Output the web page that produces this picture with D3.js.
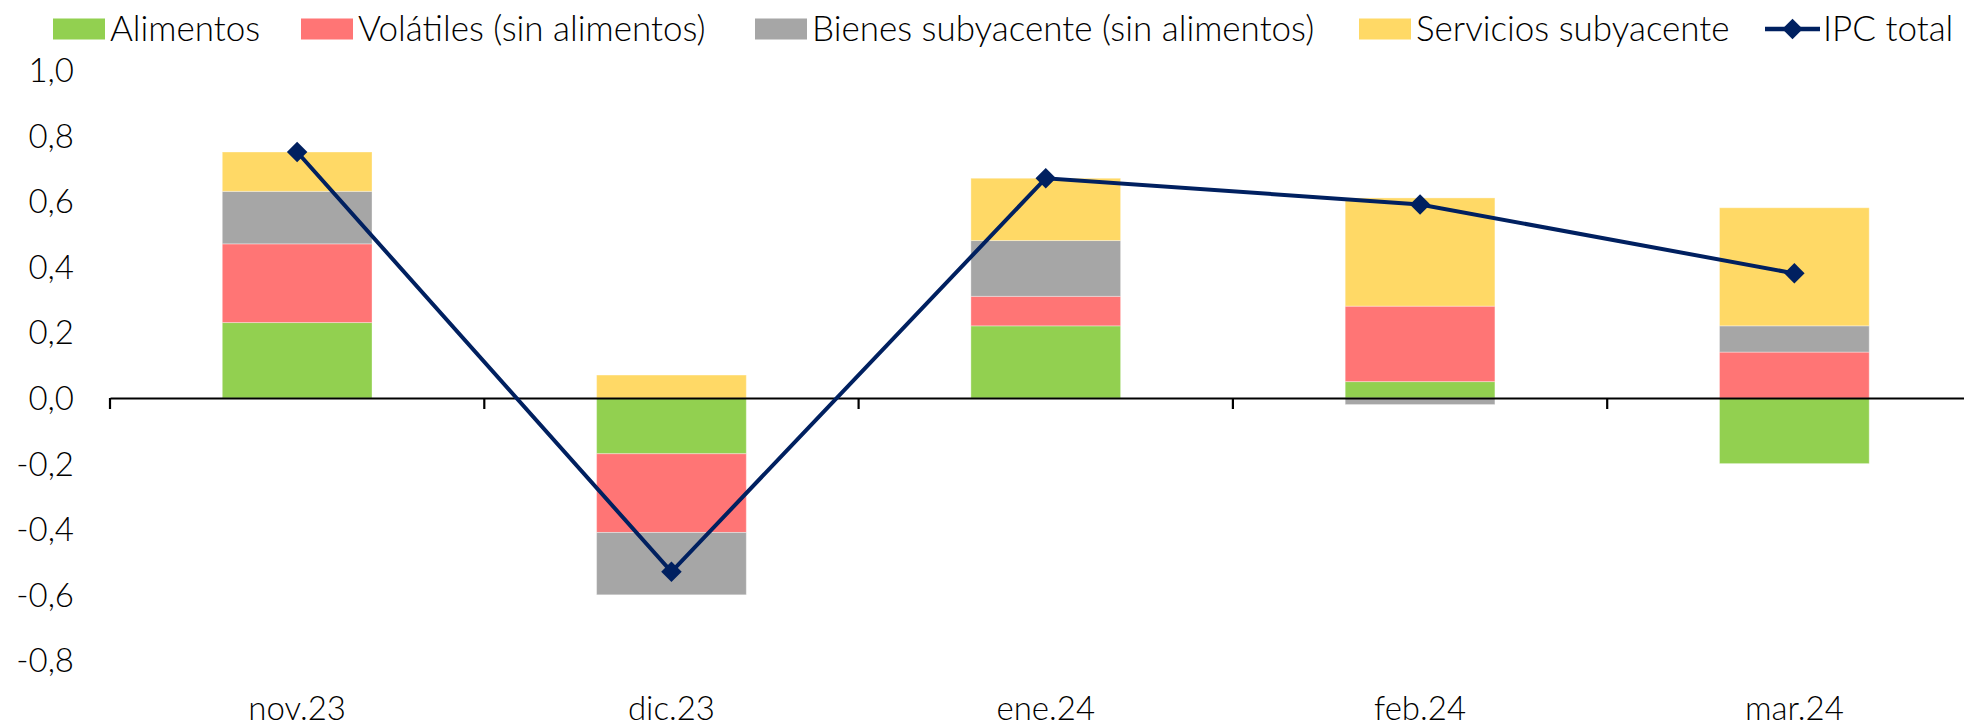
<!DOCTYPE html>
<html>
<head>
<meta charset="utf-8">
<script src="https://cdn.jsdelivr.net/npm/d3@7"></script>
<style>
  html, body { margin: 0; padding: 0; background: #fff; }
  svg { display: block; overflow: hidden; }
  text { font-family: Lato, "Open Sans", sans-serif; font-weight: 300; fill: #000; }
</style>
</head>
<body>
<svg id="chart" width="1964" height="726"></svg>
<script>
// ---- data ----
const categories = ["nov.23", "dic.23", "ene.24", "feb.24", "mar.24"];
const seriesNames = ["Alimentos", "Volátiles (sin alimentos)", "Bienes subyacente (sin alimentos)", "Servicios subyacente"];
const alimentos = [0.23, -0.17, 0.22, 0.05, -0.20];
const volatiles = [0.24, -0.24, 0.09, 0.23, 0.14];
const bienes    = [0.16, -0.19, 0.17, -0.02, 0.08];
const servicios = [0.12, 0.07, 0.19, 0.33, 0.36];
const ipcTotal  = [0.75, -0.53, 0.67, 0.59, 0.38];
const lineName = "IPC total";
const yTicks = [-0.8, -0.6, -0.4, -0.2, 0.0, 0.2, 0.4, 0.6, 0.8, 1.0];

const colors = ["#92D050", "#FF7575", "#A6A6A6", "#FFD966"];
const lineColor = "#002060";

// ---- layout ----
const svg = d3.select("#chart");
const x0 = 110, step = 374.3;
const x = d3.scaleBand().domain(categories).range([x0, x0 + step * categories.length]).padding(0);
const y = d3.scaleLinear().domain([-0.8, 1.0]).range([660.4, 70]);
const barFrac = 0.4;
const fontSize = 33;
const legendFont = 35;

const valuesBySeries = [alimentos, volatiles, bienes, servicios];
const rows = categories.map((c, i) => {
  const r = { cat: c };
  seriesNames.forEach((s, k) => r[s] = valuesBySeries[k][i]);
  return r;
});
const stacked = d3.stack().keys(seriesNames).offset(d3.stackOffsetDiverging)(rows);

// bars
const gBars = svg.append("g");
stacked.forEach((layer, k) => {
  gBars.selectAll(null).data(layer).enter().append("rect")
    .attr("x", d => x(d.data.cat) + x.bandwidth() * (1 - barFrac) / 2)
    .attr("width", x.bandwidth() * barFrac)
    .attr("y", d => y(Math.max(d[0], d[1])))
    .attr("height", d => Math.abs(y(d[0]) - y(d[1])))
    .attr("fill", colors[k])
    .attr("stroke", "#ffffff")
    .attr("stroke-opacity", 0.35)
    .attr("stroke-width", 1);
});

// x axis (zero line with ticks at band edges)
const xAxis = d3.axisBottom(x).tickSizeInner(0).tickSizeOuter(0).tickFormat("");
const gx = svg.append("g").attr("transform", `translate(0,${y(0)})`).call(xAxis);
gx.select(".domain").attr("stroke", "#000").attr("stroke-width", 2.2);
gx.selectAll(".tick").remove();
const edges = categories.map(c => x(c)).concat([x.range()[1]]);
gx.selectAll(".edge").data(edges).enter().append("line")
  .attr("x1", d => d).attr("x2", d => d)
  .attr("y1", 0).attr("y2", 11)
  .attr("stroke", "#000").attr("stroke-width", 2.2);

// category labels
svg.append("g").selectAll("text").data(categories).enter().append("text")
  .attr("x", d => x(d) + x.bandwidth() / 2)
  .attr("y", 720)
  .attr("text-anchor", "middle")
  .attr("font-size", fontSize)
  .text(d => d);

// y tick labels (no axis line)
const fmt = v => d3.format(".1f")(v).replace(".", ",").replace("−", "-");
const yAxis = d3.axisLeft(y).tickValues(yTicks).tickSize(0).tickPadding(0).tickFormat(fmt);
const gy = svg.append("g").attr("transform", "translate(74,0)").call(yAxis);
gy.select(".domain").remove();
gy.selectAll("text")
  .attr("font-size", fontSize)
  .attr("font-family", "Lato, 'Open Sans', sans-serif")
  .attr("font-weight", 300)
  .attr("fill", "#000")
  .attr("dy", "0.35em")
  .attr("x", 0);

// IPC line
const cx = i => x(categories[i]) + x.bandwidth() / 2;
const line = d3.line().x((d, i) => cx(i)).y(d => y(d));
svg.append("path").datum(ipcTotal)
  .attr("d", line)
  .attr("fill", "none")
  .attr("stroke", lineColor)
  .attr("stroke-width", 4);
const diamond = d3.symbol().type(d3.symbolSquare).size(210);
svg.append("g").selectAll("path").data(ipcTotal).enter().append("path")
  .attr("d", diamond)
  .attr("transform", (d, i) => `translate(${cx(i)},${y(d)}) rotate(45)`)
  .attr("fill", lineColor);

// legend
const legend = svg.append("g");
const swX = [53, 301, 755, 1359];
const swW = 52, swH = 21, legY = 29;
seriesNames.forEach((s, k) => {
  legend.append("rect").attr("x", swX[k]).attr("y", legY - swH / 2).attr("width", swW).attr("height", swH).attr("fill", colors[k]);
  legend.append("text").attr("x", swX[k] + swW + 5).attr("y", legY).attr("dy", "0.35em")
    .attr("font-size", legendFont).text(s);
});
const lx = 1765;
legend.append("line").attr("x1", lx).attr("x2", lx + 55).attr("y1", legY).attr("y2", legY)
  .attr("stroke", lineColor).attr("stroke-width", 4.5);
legend.append("path").attr("d", diamond).attr("transform", `translate(${lx + 27.5},${legY}) rotate(45)`).attr("fill", lineColor);
legend.append("text").attr("x", lx + 58).attr("y", legY).attr("dy", "0.35em").attr("font-size", legendFont).text(lineName);
</script>
</body>
</html>
